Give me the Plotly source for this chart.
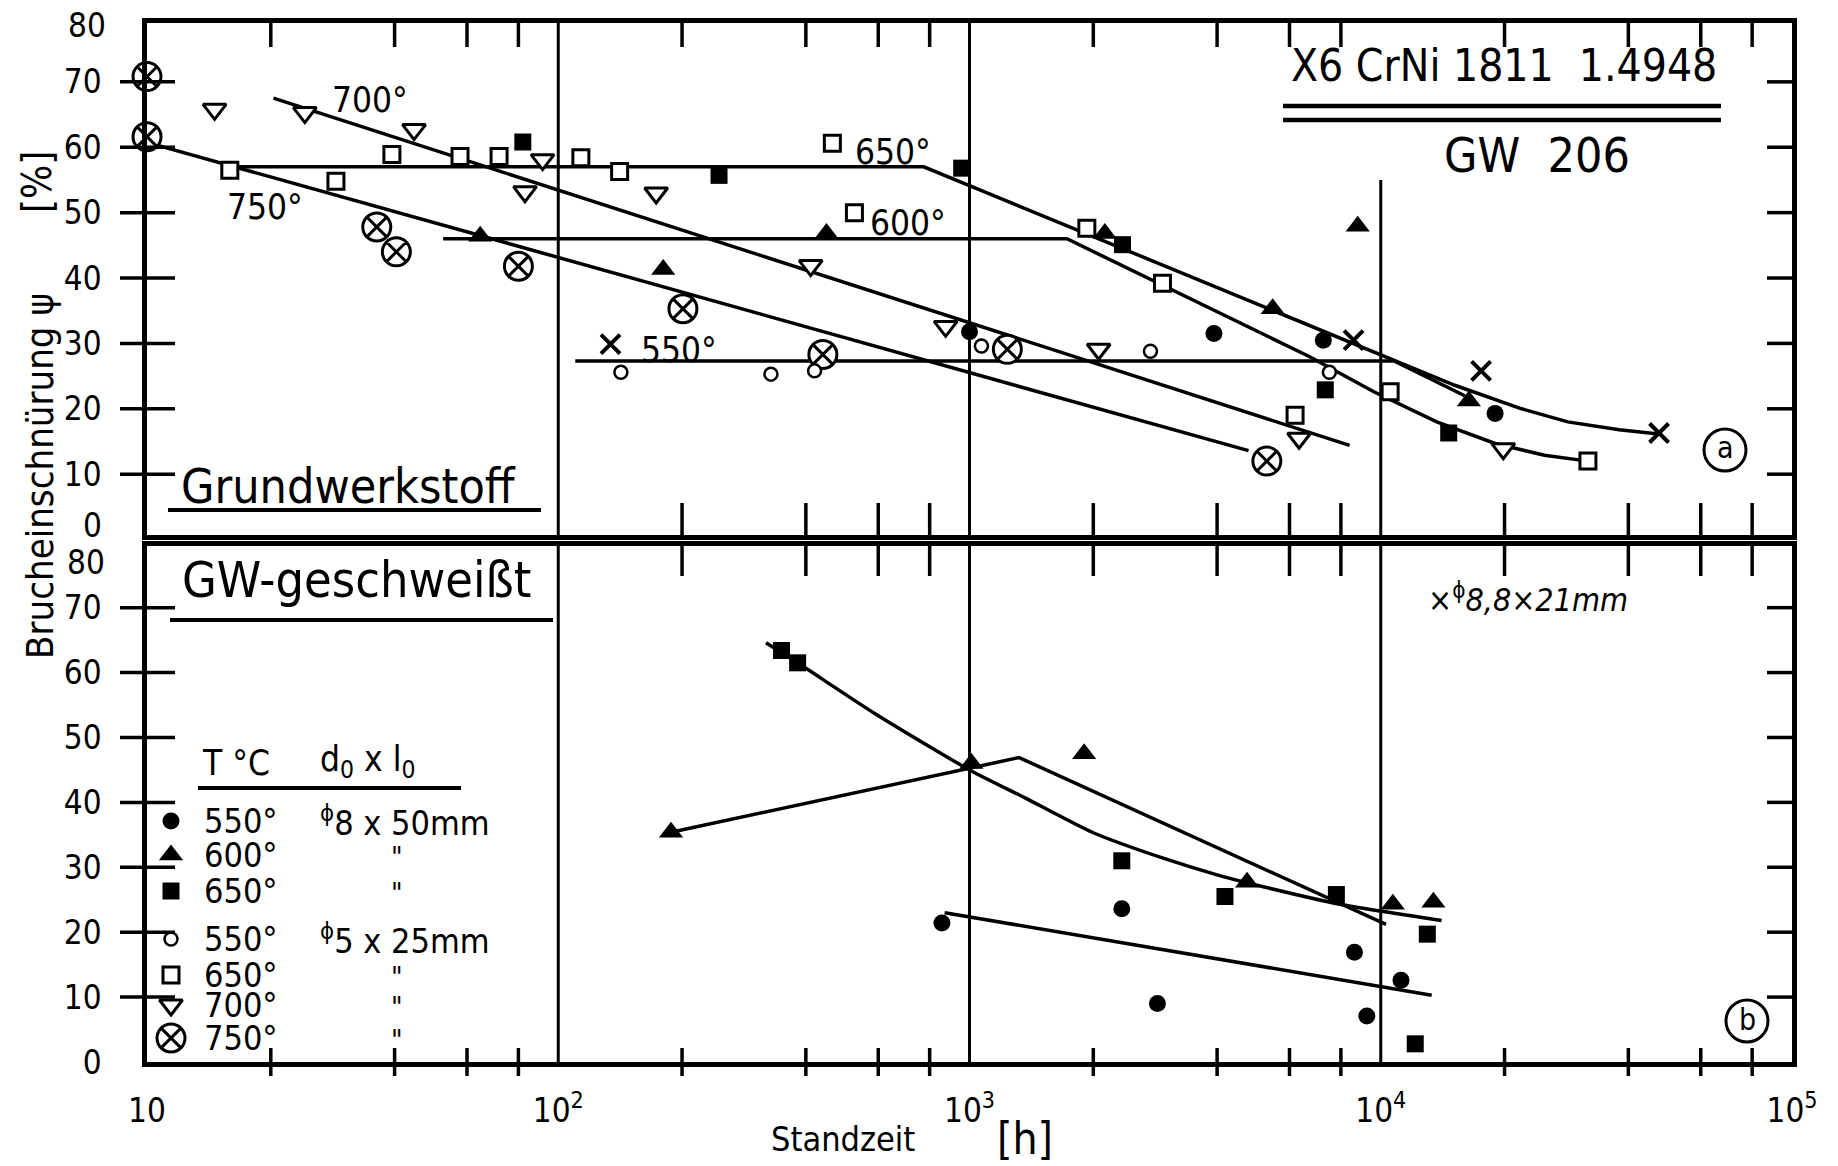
import plotly.graph_objects as go

# ---------------------------------------------------------------
# a) Grundwerkstoff  --  Standzeit t [h] / Brucheinschnuerung psi [%]
# ---------------------------------------------------------------
# filled symbols: d0 x l0 = 8 x 50 mm
a_t_550 = [1000, 3930, 7250, 18970]
a_psi_550 = [31.8, 31.5, 30.5, 19.3]
a_t_600 = [64.6, 180, 449, 2133, 5460, 8790, 16380]
a_psi_600 = [46.4, 41.3, 46.8, 46.8, 35.3, 47.9, 21.2]
a_t_650 = [82, 246, 957, 2355, 7330, 14630]
a_psi_650 = [60.8, 55.7, 56.8, 45.1, 22.9, 16.3]
# open symbols: d0 x l0 = 5 x 25 mm
a_t_550k = [142, 329, 420, 1069, 2754, 7500]
a_psi_550k = [25.6, 25.3, 25.8, 29.6, 28.8, 25.6]
a_t_650k = [15.9, 28.8, 39.4, 57.7, 71.8, 113.5, 141, 464, 525, 1929, 2946, 6190, 10540, 31900]
a_psi_650k = [56.5, 54.8, 58.9, 58.6, 58.6, 58.4, 56.3, 60.6, 50, 47.6, 39.2, 19.0, 22.6, 12]
a_t_700k = [14.6, 24.2, 44.6, 83, 91.6, 173, 411, 875, 2061, 6330, 19860]
a_psi_700k = [65.8, 65.3, 62.7, 53.2, 58.1, 53, 41.9, 32.6, 29.1, 15.5, 13.9]
a_t_750k = [10, 10, 36.2, 40.4, 80, 201, 440, 1236, 5285]
a_psi_750k = [70.8, 61.6, 47.8, 44, 41.8, 35.3, 28.3, 29.1, 12]
# crosses: d0 x l0 = 8,8 x 21 mm
a_t_550x = [134, 8590, 17540, 47500]
a_psi_550x = [29.9, 30.5, 25.8, 16.3]

# mean curves (a)
a_c650_t = [16.6, 774, 15140, 22000, 28500, 38000, 48000]
a_c650_psi = [57, 57, 23.6, 20, 18, 16.8, 16.1]
a_c600_t = [52.5, 1726, 6700, 9620, 13680, 18970, 25000, 31900]
a_c600_psi = [46, 46, 28, 22.6, 18, 14.7, 12.9, 12]
a_c550_t = [110, 10800, 16000]
a_c550_psi = [27.3, 27.3, 22]
a_c700_t = [20.3, 8400]
a_c700_psi = [67.5, 14.4]
a_c750_t = [10.2, 4770]
a_c750_psi = [60.6, 13.6]

# ---------------------------------------------------------------
# b) GW-geschweisst
# ---------------------------------------------------------------
b_t_550 = [857, 2346, 2864, 8630, 9250, 11200]
b_psi_550 = [21.4, 23.6, 9, 16.9, 7.1, 12.6]
b_t_600 = [188, 1011, 1900, 4730, 10700, 13430]
b_psi_600 = [35.4, 46, 47.5, 27.7, 24.3, 24.6]
b_t_650 = [349, 382, 2346, 4180, 7800, 12980, 12130]
b_psi_650 = [63.4, 61.5, 31, 25.5, 25.8, 19.7, 2.8]

b_c650_t = [320, 382, 588, 1000, 1364, 1987, 2958, 4017, 5180, 7960, 14060]
b_c650_psi = [64.6, 61.5, 53.7, 45, 40.7, 35.4, 31.4, 28.8, 27.0, 24.3, 21.8]
b_c600_t = [188, 1000, 1320, 10300]
b_c600_psi = [35.4, 45.3, 46.9, 21.2]
b_c550_t = [870, 13300]
b_c550_psi = [23, 10.3]

# axes
x_decades = [10, 100, 1000, 10000, 100000]
x_decade_text = ["10", "10<sup>2</sup>", "10<sup>3</sup>", "10<sup>4</sup>", "10<sup>5</sup>"]
x_minor = [m * 10 ** k for k in range(1, 5) for m in (2, 4, 6, 8)]
x_grid = [100, 1000, 10000]
y_ticks = [10, 20, 30, 40, 50, 60, 70]

# key
legend_temps = ["550°", "600°", "650°", "550°", "650°", "700°", "750°"]
legend_specs = ["<sup>ϕ</sup>8 x 50mm", '"', '"', "<sup>ϕ</sup>5 x 25mm", '"', '"', '"']

# ---------------------------------------------------------------
FONT = "Liberation Sans Narrow, DejaVu Sans Condensed, Arial Narrow, sans-serif"
BLK = "black"
L, R, T, B = 147, 1792, 23, 1062
W, H = R - L, B - T
TOP_LOW, BOT_HIGH = 535, 546          # inner panel borders (px)


def px(x):
    return (x - L) / W


def py(y):
    return (B - y) / H


STY = {
    "550": dict(symbol="circle", size=17, color=BLK),
    "600": dict(symbol="triangle-up", size=21, color=BLK),
    "650": dict(symbol="square", size=17, color=BLK),
    "550k": dict(symbol="circle", size=13, color="white", line=dict(color=BLK, width=2.5)),
    "650k": dict(symbol="square", size=16, color="white", line=dict(color=BLK, width=3)),
    "700k": dict(symbol="triangle-down", size=20, color="white", line=dict(color=BLK, width=3)),
    "750k": dict(symbol="circle-x", size=28, color="white", line=dict(color=BLK, width=3)),
    "550x": dict(symbol="x-thin-open", size=19, color=BLK, line=dict(color=BLK, width=4)),
}

fig = go.Figure()


def curve(t, psi, xa, ya, smooth=False):
    line = dict(color=BLK, width=3.5)
    if smooth:
        line.update(shape="spline", smoothing=0.6)
    fig.add_trace(go.Scatter(x=t, y=psi, xaxis=xa, yaxis=ya, mode="lines",
                             line=line, hoverinfo="skip"))


def points(t, psi, key, xa, ya):
    fig.add_trace(go.Scatter(x=t, y=psi, xaxis=xa, yaxis=ya, mode="markers",
                             marker=STY[key], cliponaxis=False, hoverinfo="x+y"))


# (a) curves then markers
for t, p in [(a_c650_t, a_c650_psi), (a_c600_t, a_c600_psi), (a_c550_t, a_c550_psi),
             (a_c700_t, a_c700_psi), (a_c750_t, a_c750_psi)]:
    curve(t, p, "x", "y")
for t, p, k in [(a_t_650k, a_psi_650k, "650k"), (a_t_700k, a_psi_700k, "700k"),
                (a_t_750k, a_psi_750k, "750k"), (a_t_550k, a_psi_550k, "550k"),
                (a_t_550, a_psi_550, "550"), (a_t_600, a_psi_600, "600"),
                (a_t_650, a_psi_650, "650"), (a_t_550x, a_psi_550x, "550x")]:
    points(t, p, k, "x", "y")

# (b)
curve(b_c650_t, b_c650_psi, "x2", "y2", smooth=True)
curve(b_c600_t, b_c600_psi, "x2", "y2")
curve(b_c550_t, b_c550_psi, "x2", "y2")
for t, p, k in [(b_t_550, b_psi_550, "550"), (b_t_600, b_psi_600, "600"),
                (b_t_650, b_psi_650, "650")]:
    points(t, p, k, "x2", "y2")

# key symbols on a pixel-scaled overlay of panel (b)
key_rows_y = [821, 855, 891, 939, 975, 1005, 1038]
key_marks = ["550", "600", "650", "550k", "650k", "700k", "750k"]
for yy, k in zip(key_rows_y, key_marks):
    fig.add_trace(go.Scatter(x=[171], y=[yy], xaxis="x3", yaxis="y3", mode="markers",
                             marker=STY[k], cliponaxis=False, hoverinfo="skip"))

axis_common = dict(showline=True, mirror=True, linecolor=BLK, linewidth=4.5,
                   showgrid=False, zeroline=False, ticks="")
fig.update_layout(
    width=1838, height=1166,
    margin=dict(l=L, r=1838 - R, t=T, b=1166 - B, pad=0),
    paper_bgcolor="white", plot_bgcolor="white", showlegend=False,
    font=dict(family=FONT, color=BLK),
    xaxis=dict(domain=[0, 1], anchor="y", type="log", range=[1, 5],
               showticklabels=False, **axis_common),
    yaxis=dict(domain=[py(TOP_LOW), 1], anchor="x", range=[0.7, 79],
               tickvals=y_ticks, ticklabelstandoff=34,
               tickfont=dict(size=33, family=FONT), **axis_common),
    xaxis2=dict(domain=[0, 1], anchor="y2", type="log", range=[1, 5],
                tickvals=x_decades, ticktext=x_decade_text, ticklabelstandoff=16,
                tickfont=dict(size=33, family=FONT), **axis_common),
    yaxis2=dict(domain=[0, py(BOT_HIGH)], anchor="x2", range=[0, 79.5],
                tickvals=[0] + y_ticks, ticklabelstandoff=34,
                tickfont=dict(size=33, family=FONT), **axis_common),
    xaxis3=dict(overlaying="x2", range=[L, R], visible=False),
    yaxis3=dict(overlaying="y2", range=[B, BOT_HIGH], visible=False),
)

LW = dict(color=BLK, width=3.5)
# vertical decade lines
for v in x_grid:
    fig.add_shape(type="line", xref="x2", yref="y2 domain", x0=v, x1=v, y0=0, y1=1,
                  line=dict(color=BLK, width=3), layer="below")
    if v < 10000:
        fig.add_shape(type="line", xref="x", yref="y domain", x0=v, x1=v, y0=0, y1=1,
                      line=dict(color=BLK, width=3), layer="below")
    else:
        fig.add_shape(type="line", xref="x", yref="y", x0=v, x1=v, y0=0.7, y1=55,
                      line=dict(color=BLK, width=3), layer="below")

# y ticks: crossing on the left, inside on the right
for v in y_ticks:
    for yr in ("y", "y2"):
        fig.add_shape(type="line", xref="paper", yref=yr, xsizemode="pixel", xanchor=0,
                      x0=-27, x1=28, y0=v, y1=v, line=LW)
        fig.add_shape(type="line", xref="paper", yref=yr, xsizemode="pixel", xanchor=1,
                      x0=0, x1=-25, y0=v, y1=v, line=LW)

# x ticks at 2,4,6,8 x 10^k
for v in x_minor:
    fig.add_shape(type="line", xref="x", yref="y domain", ysizemode="pixel", yanchor=1,
                  x0=v, x1=v, y0=0, y1=-24, line=LW)
    fig.add_shape(type="line", xref="x2", yref="y2 domain", ysizemode="pixel", yanchor=0,
                  x0=v, x1=v, y0=-14, y1=14, line=LW)
    if v >= 200:
        fig.add_shape(type="line", xref="x", yref="y domain", ysizemode="pixel", yanchor=0,
                      x0=v, x1=v, y0=0, y1=32, line=LW)
        fig.add_shape(type="line", xref="x2", yref="y2 domain", ysizemode="pixel", yanchor=1,
                      x0=v, x1=v, y0=0, y1=-30, line=LW)


def ann(text, x, y, size, **kw):
    d = dict(text=text, x=px(x), y=py(y), xref="paper", yref="paper", showarrow=False,
             font=dict(family=FONT, size=size, color=BLK), xanchor="center", yanchor="middle")
    d.update(kw)
    fig.add_annotation(**d)


def hline(x0, x1, y, width=4):
    fig.add_shape(type="line", xref="paper", yref="paper", x0=px(x0), x1=px(x1),
                  y0=py(y), y1=py(y), line=dict(color=BLK, width=width))


def ring(x, y, r=21):
    fig.add_shape(type="circle", xref="paper", yref="paper", xsizemode="pixel",
                  ysizemode="pixel", xanchor=px(x), yanchor=py(y), x0=-r, x1=r, y0=-r, y1=r,
                  line=dict(color=BLK, width=3))


# end labels of the psi scales
ann("80", 87, 26, 33)
ann("0", 92, 525, 33)
ann("80", 86, 562, 33)

# header
ann("X6 CrNi 1811\u00a0\u00a01.4948", 1504, 66, 44)
hline(1283, 1721, 106, 4.5)
hline(1283, 1721, 120, 4.5)
ann("GW\u00a0\u00a0206", 1537, 155, 48)

# curve labels (a)
ann("700°", 370, 100, 35)
ann("750°", 265, 207, 35)
ann("650°", 893, 152, 35)
ann("600°", 908, 223, 35)
ann("550°", 679, 350, 35)

ann("Grundwerkstoff", 348, 486, 48)
hline(168, 541, 510)
ring(1725, 450)
ann("a", 1725, 448, 30)

# (b)
ann("GW-geschweißt", 356, 580, 50)
hline(170, 553, 620)
ann("×<sup>ϕ</sup><i>8,8×21mm</i>", 1528, 598, 32)
ring(1747, 1021)
ann("b", 1747, 1019, 30)

# key
ann("T °C", 200, 763, 35, xanchor="left")
ann("d<sub>0</sub> x l<sub>0</sub>", 318, 761, 35, xanchor="left")
hline(198, 461, 788)
for yy, tt, ss in zip(key_rows_y, legend_temps, legend_specs):
    ann(tt, 202, yy, 34, xanchor="left")
    if ss == '"':
        ann(ss, 397, yy + 2, 28)
    else:
        ann(ss, 318, yy, 34, xanchor="left")

# axis titles
ann("Brucheinschnürung ψ", 40, 476, 38, textangle=-90)
ann("[%]", 37, 182, 40, textangle=-90)
ann("Standzeit", 843, 1139, 34)
ann("[h]", 1025, 1138, 44)

fig.write_html("out.html")
